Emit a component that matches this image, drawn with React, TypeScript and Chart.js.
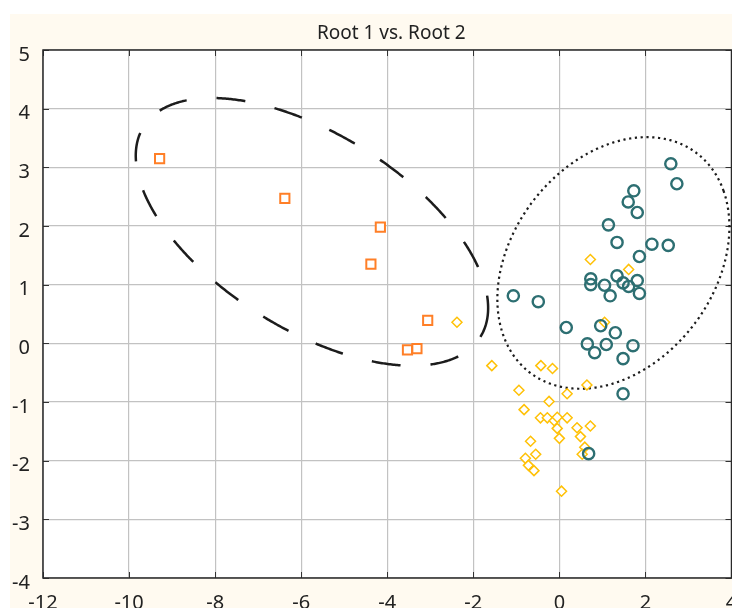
import React, { useEffect, useRef } from "react";
import { Chart, registerables } from "chart.js";

Chart.register(...registerables);

const chartTitle = "Root 1 vs. Root 2";
const xTickValues = [-12, -10, -8, -6, -4, -2, 0, 2, 4];
const yTickValues = [-4, -3, -2, -1, 0, 1, 2, 3, 4, 5];

// Group A (orange squares)
const groupARoot1 = [-9.29, -6.38, -4.16, -4.38, -3.06, -3.53, -3.31];
const groupARoot2 = [3.15, 2.47, 1.98, 1.35, 0.39, -0.11, -0.09];

// Group B (yellow diamonds)
const groupBRoot1 = [
  -2.38, 0.72, 1.61, 1.05, -1.57, -0.43, -0.16, 0.64, -0.94, 0.18,
  -0.24, -0.82, -0.44, -0.28, -0.12, -0.05, 0.18, -0.05, 0.41, 0.72,
  0.49, 0.0, -0.67, 0.59, -0.55, 0.53, -0.79, -0.72, -0.59, 0.05,
];
const groupBRoot2 = [
  0.36, 1.43, 1.26, 0.36, -0.38, -0.38, -0.43, -0.71, -0.8, -0.86,
  -0.99, -1.13, -1.27, -1.27, -1.32, -1.26, -1.27, -1.45, -1.44, -1.41,
  -1.59, -1.62, -1.67, -1.77, -1.89, -1.89, -1.96, -2.08, -2.17, -2.52,
];

// Group C (teal circles)
const groupCRoot1 = [
  2.59, 2.73, 1.73, 1.6, 1.81, 1.14, 1.34, 2.15, 2.53, 1.86,
  0.73, 1.34, 1.81, 0.73, 1.05, 1.48, 1.61, 1.86, 1.18, -1.07,
  -0.49, 0.16, 0.96, 1.3, 0.65, 1.09, 1.71, 0.82, 1.48, 1.48, 0.68,
];
const groupCRoot2 = [
  3.06, 2.72, 2.6, 2.41, 2.23, 2.02, 1.72, 1.69, 1.67, 1.48,
  1.1, 1.15, 1.07, 1.0, 0.99, 1.03, 0.97, 0.85, 0.81, 0.81,
  0.71, 0.27, 0.3, 0.18, -0.01, -0.02, -0.04, -0.16, -0.26, -0.86, -1.88,
];

// Group ellipses: centre, semi-axes (data units), rotation (deg)
const ellipseA = { cx: -5.75, cy: 1.9, a: 4.34, b: 1.77, angleDeg: -21.3 };
const ellipseC = { cx: 1.255, cy: 1.37, a: 2.84, b: 1.95, angleDeg: 25.6 };

const FONT = '"Noto Sans", "Open Sans", sans-serif';

const toPoints = (xs: number[], ys: number[]) => xs.map((v, i) => ({ x: v, y: ys[i] }));

function strokeEllipse(chart: any, e: any, dash: number[], width: number) {
  const { ctx, scales } = chart;
  const xs = scales.x;
  const ys = scales.y;
  const th = (e.angleDeg * Math.PI) / 180;
  ctx.save();
  ctx.beginPath();
  const N = 720;
  for (let i = 0; i <= N; i++) {
    const t = (i / N) * Math.PI * 2;
    const dx = e.a * Math.cos(t);
    const dy = e.b * Math.sin(t);
    const vx = e.cx + dx * Math.cos(th) - dy * Math.sin(th);
    const vy = e.cy + dx * Math.sin(th) + dy * Math.cos(th);
    const px = xs.getPixelForValue(vx);
    const py = ys.getPixelForValue(vy);
    if (i === 0) ctx.moveTo(px, py);
    else ctx.lineTo(px, py);
  }
  ctx.setLineDash(dash);
  ctx.lineCap = "butt";
  ctx.lineWidth = width;
  ctx.strokeStyle = "#1c1c1c";
  ctx.stroke();
  ctx.restore();
}

const framePlugin = {
  id: "frame",
  beforeDraw(chart: any) {
    const { ctx, chartArea } = chart;
    ctx.save();
    ctx.fillStyle = "#ffffff";
    ctx.fillRect(0, 0, chart.width, chart.height);
    ctx.fillStyle = "#fffaf0";
    ctx.fillRect(2, 6, chart.width - 2, chart.height - 6);
    ctx.fillStyle = "#ffffff";
    ctx.fillRect(chartArea.left, chartArea.top, chartArea.right - chartArea.left, chartArea.bottom - chartArea.top);
    ctx.restore();
  },
  beforeDatasetsDraw(chart: any) {
    const { ctx, chartArea, scales } = chart;
    const { left, right, top, bottom } = chartArea;
    ctx.save();
    ctx.strokeStyle = "#333333";
    ctx.lineWidth = 1;
    ctx.beginPath();
    xTickValues.forEach((v) => {
      const px = Math.round(scales.x.getPixelForValue(v)) + 0.5;
      ctx.moveTo(px, bottom);
      ctx.lineTo(px, bottom - 6);
      ctx.moveTo(px, top);
      ctx.lineTo(px, top + 6);
    });
    yTickValues.forEach((v) => {
      const py = Math.round(scales.y.getPixelForValue(v)) + 0.5;
      ctx.moveTo(left, py);
      ctx.lineTo(left + 6, py);
      ctx.moveTo(right, py);
      ctx.lineTo(right - 6, py);
    });
    ctx.stroke();
    ctx.lineWidth = 1.5;
    ctx.strokeStyle = "#2a2a2a";
    ctx.strokeRect(left, top, right - left, bottom - top);
    ctx.restore();

    strokeEllipse(chart, ellipseA, [29, 30], 2.5);
    strokeEllipse(chart, ellipseC, [2.2, 3.6], 2.2);
  },
  afterDraw(chart: any) {
    const { ctx, chartArea } = chart;
    ctx.save();
    ctx.font = `19px ${FONT}`;
    ctx.fillStyle = "#222222";
    ctx.textAlign = "center";
    ctx.textBaseline = "middle";
    ctx.fillText(chartTitle, (chartArea.left + chartArea.right) / 2 + 4, 26);
    ctx.restore();
  },
};

export default function App() {
  const canvasRef = useRef<HTMLCanvasElement | null>(null);

  useEffect(() => {
    if (!canvasRef.current) return;
    const chart = new Chart(canvasRef.current, {
      type: "scatter",
      data: {
        datasets: [
          {
            label: "Group C",
            data: toPoints(groupCRoot1, groupCRoot2),
            pointStyle: "circle",
            pointRadius: 5.6,
            borderWidth: 2.4,
            borderColor: "#2d6f72",
            backgroundColor: "rgba(0,0,0,0)",
          },
          {
            label: "Group B",
            data: toPoints(groupBRoot1, groupBRoot2),
            pointStyle: "rectRot",
            pointRadius: 5,
            borderWidth: 1.5,
            borderColor: "#ffc107",
            backgroundColor: "#ffffff",
          },
          {
            label: "Group A",
            data: toPoints(groupARoot1, groupARoot2),
            pointStyle: "rect",
            pointRadius: 6.5,
            borderWidth: 2,
            borderColor: "#ff7f27",
            backgroundColor: "#ffffff",
          },
        ],
      },
      options: {
        responsive: false,
        animation: false,
        events: [],
        layout: { padding: { top: 42, right: 6, left: 0, bottom: 0 } },
        plugins: {
          legend: { display: false },
          title: { display: false },
          tooltip: { enabled: false },
        },
        scales: {
          x: {
            type: "linear",
            min: -12,
            max: 4,
            afterBuildTicks: (s: any) => {
              s.ticks = xTickValues.map((v) => ({ value: v }));
            },
            afterFit: (s: any) => {
              s.height = 30;
              s.paddingLeft = 0;
              s.paddingRight = 0;
            },
            grid: { color: "#c2c2c2", lineWidth: 1.2, drawTicks: false },
            border: { display: false },
            ticks: {
              padding: 13,
              autoSkip: false,
              maxRotation: 0,
              color: "#222222",
              font: { family: FONT, size: 20 },
            },
          },
          y: {
            type: "linear",
            min: -4,
            max: 5,
            afterBuildTicks: (s: any) => {
              s.ticks = yTickValues.map((v) => ({ value: v }));
            },
            afterFit: (s: any) => {
              s.width = 35;
              s.paddingTop = 0;
              s.paddingBottom = 0;
            },
            grid: { color: "#c2c2c2", lineWidth: 1.2, drawTicks: false },
            border: { display: false },
            ticks: {
              padding: 13,
              labelOffset: 5,
              autoSkip: false,
              color: "#222222",
              font: { family: FONT, size: 20 },
            },
          },
        },
      },
      plugins: [framePlugin],
    });
    return () => chart.destroy();
  }, []);

  return (
    <div style={{ width: 732, height: 600 }}>
      <canvas ref={canvasRef} width={732} height={600} style={{ display: "block", width: 732, height: 600 }} />
    </div>
  );
}
